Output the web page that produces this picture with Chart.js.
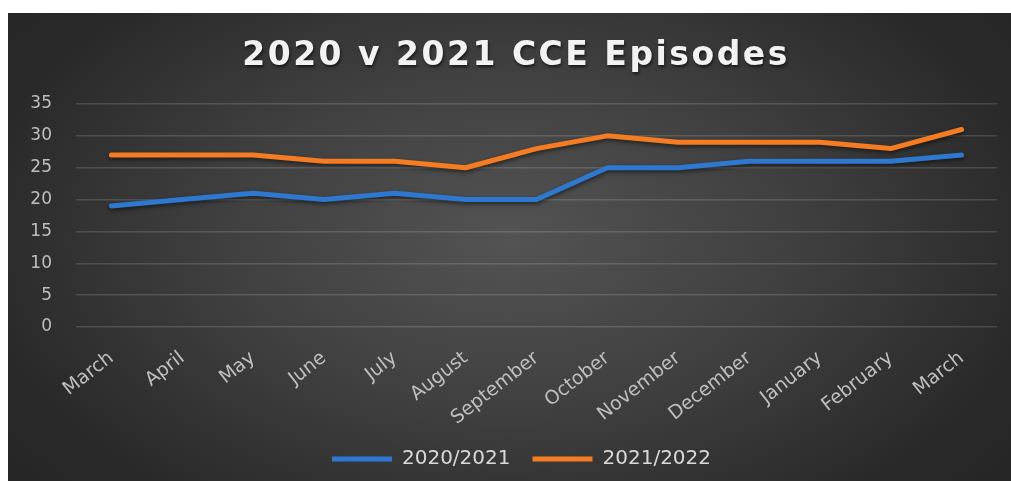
<!DOCTYPE html>
<html>
<head>
<meta charset="utf-8">
<title>2020 v 2021 CCE Episodes</title>
<script src="https://cdn.jsdelivr.net/npm/chart.js@4"></script>
<style>
  html, body { margin: 0; padding: 0; background: #fff; }
  #panel {
    position: absolute; left: 8px; top: 13px; width: 1003px; height: 468px;
    background: radial-gradient(ellipse 62% 80% at 50% 48%, #535353 0%, #404040 45%, #2a2a2a 85%, #262626 100%);
  }
  canvas { display: block; }
</style>
</head>
<body>
<div id="panel"><canvas id="chart" width="1003" height="468"></canvas></div>
<script>
// months on the x axis, March to March
const months = ["March", "April", "May", "June", "July", "August", "September",
  "October", "November", "December", "January", "February", "March"];
const episodes2020 = [19, 20, 21, 20, 21, 20, 20, 25, 25, 26, 26, 26, 27];
const episodes2021 = [27, 27, 27, 26, 26, 25, 28, 30, 29, 29, 29, 28, 31];
const yMin = 0;
const yMax = 35;
const yStep = 5;
const chartTitle = "2020 v 2021 CCE Episodes";

const FONT = "'DejaVu Sans', sans-serif";

// title with wide letter spacing, drawn straight on the canvas
const spacedTitle = {
  id: "spacedTitle",
  afterDraw(chart) {
    const ctx = chart.ctx;
    ctx.save();
    ctx.font = "bold 33px " + FONT;
    ctx.letterSpacing = "2.5px";
    ctx.fillStyle = "#f2f2f2";
    ctx.textAlign = "center";
    ctx.textBaseline = "alphabetic";
    ctx.shadowColor = "rgba(0,0,0,0.6)";
    ctx.shadowBlur = 3;
    ctx.shadowOffsetX = 1;
    ctx.shadowOffsetY = 2;
    ctx.fillText(chartTitle, 508, 52);
    ctx.restore();
  }
};

// legend sits a bit right of centre, under the plot area
const legendShift = {
  id: "legendShift",
  afterLayout(chart) {
    chart.legend.left += 19;
    chart.legend.right += 19;
  }
};

// soft drop shadow under the lines
const lineShadow = {
  id: "lineShadow",
  beforeDatasetDraw(chart) {
    const ctx = chart.ctx;
    ctx.save();
    ctx.shadowColor = "rgba(0,0,0,0.55)";
    ctx.shadowBlur = 4;
    ctx.shadowOffsetY = 2;
  },
  afterDatasetDraw(chart) {
    chart.ctx.restore();
  }
};

new Chart(document.getElementById("chart"), {
  type: "line",
  data: {
    labels: months,
    datasets: [
      {
        label: "2020/2021",
        data: episodes2020,
        borderColor: "#2f78cf",
        backgroundColor: "#2f78cf",
        borderWidth: 5,
        borderCapStyle: "round",
        borderJoinStyle: "round",
        pointRadius: 0,
        tension: 0
      },
      {
        label: "2021/2022",
        data: episodes2021,
        borderColor: "#f57c23",
        backgroundColor: "#f57c23",
        borderWidth: 5,
        borderCapStyle: "round",
        borderJoinStyle: "round",
        pointRadius: 0,
        tension: 0
      }
    ]
  },
  options: {
    responsive: false,
    animation: false,
    layout: { padding: { top: 91, right: 14, bottom: 2, left: 0 } },
    scales: {
      x: {
        offset: true,
        grid: { display: false },
        border: { display: false },
        ticks: {
          color: "#bfbfbf",
          font: { family: FONT, size: 19 },
          maxRotation: 38,
          minRotation: 38,
          padding: 12,
          autoSkip: false
        },
        afterFit(scale) { scale.height = 100; }
      },
      y: {
        min: yMin,
        max: yMax,
        grid: { color: "rgba(255,255,255,0.14)", lineWidth: 1.5, drawTicks: false },
        border: { display: false },
        ticks: {
          stepSize: yStep,
          color: "#bfbfbf",
          font: { family: FONT, size: 17 },
          padding: 24
        },
        afterFit(scale) { scale.width = 68; }
      }
    },
    plugins: {
      title: { display: false },
      tooltip: { enabled: false },
      legend: {
        position: "bottom",
        labels: {
          usePointStyle: true,
          pointStyle: "line",
          pointStyleWidth: 60,
          color: "#d9d9d9",
          font: { family: FONT, size: 20 },
          padding: 22
        }
      }
    }
  },
  plugins: [spacedTitle, legendShift, lineShadow]
});
</script>
</body>
</html>
